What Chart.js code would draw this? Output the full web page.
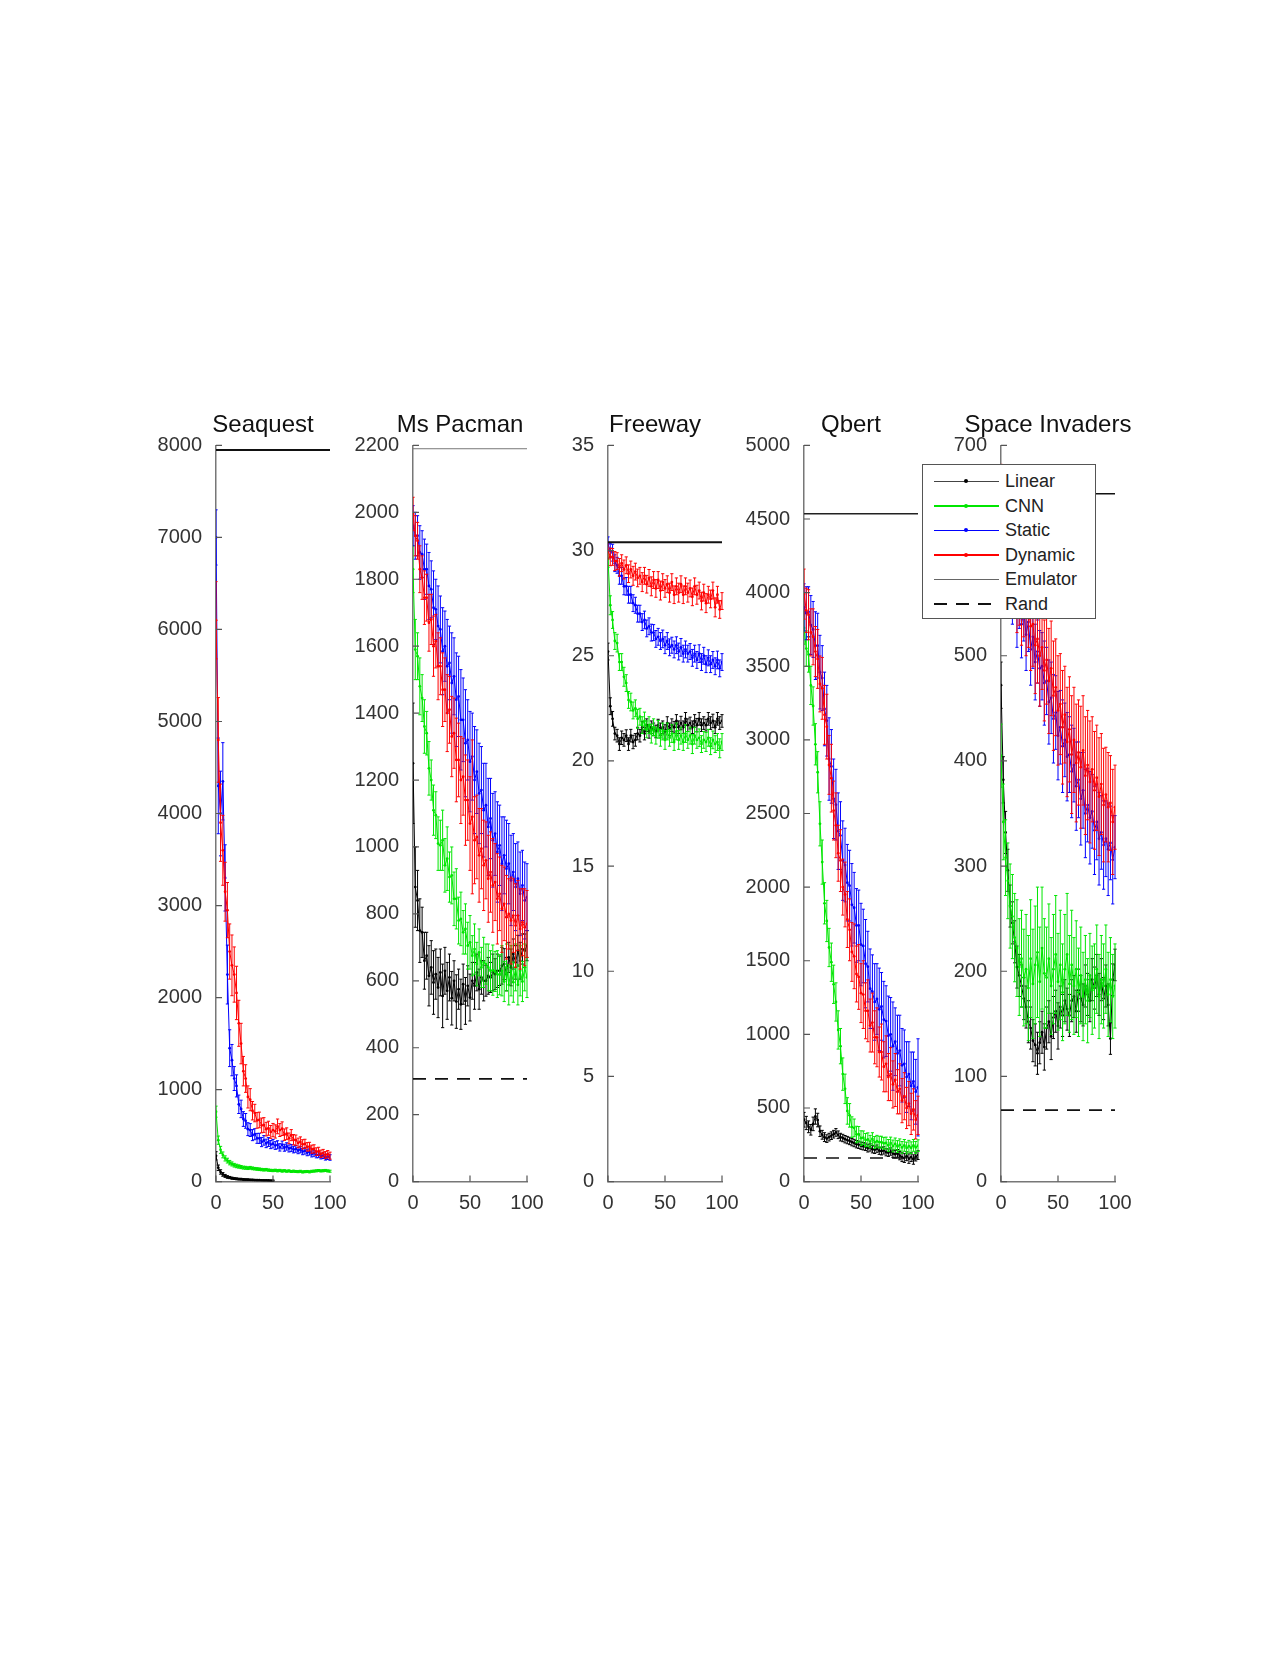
<!DOCTYPE html>
<html><head><meta charset="utf-8">
<script src="https://cdn.jsdelivr.net/npm/chart.js@4.4.1/dist/chart.umd.min.js"></script>
<style>
html,body{margin:0;padding:0;background:#fff;}
body{width:1280px;height:1659px;position:relative;overflow:hidden;font-family:'Liberation Sans',Arial,sans-serif;}
canvas{position:absolute;}
#legend{position:absolute;left:922px;top:464px;width:172px;height:153px;border:1.5px solid #555;background:#fff;z-index:10;}
.row{position:absolute;left:0;width:100%;height:0;}
.smp{position:absolute;left:11px;width:65px;}
.dot{position:absolute;width:4px;height:4px;border-radius:50%;}
.lbl{position:absolute;left:82px;top:-11px;font-size:18px;line-height:22px;color:#222;white-space:nowrap;}
</style></head>
<body>
<canvas id="c0" width="254" height="832"></canvas>
<canvas id="c1" width="254" height="832"></canvas>
<canvas id="c2" width="254" height="832"></canvas>
<canvas id="c3" width="254" height="832"></canvas>
<canvas id="c4" width="254" height="832"></canvas>
<div id="legend"></div>
<script>
// ---------------- DATA ----------------
const xSteps = [0,2,4,6,8,10,12,14,16,18,20,22,24,26,28,30,32,34,36,38,40,42,44,46,48,50,52,54,56,58,60,62,64,66,68,70,72,74,76,78,80,82,84,86,88,90,92,94,96,98,100];
const panelNames = ['Seaquest','Ms Pacman','Freeway','Qbert','Space Invaders'];
const yMaxes = [8000,2200,35,5000,700];
const yStepSizes = [1000,200,5,500,100];
const xTickStep = 50;
const emulatorScores = [7950,2190,30.4,4535,654];
const randScores = [null,307,null,160,68];
const seriesNames = ['Linear','CNN','Static','Dynamic'];

// Seaquest
const sqLinear = [280,150,105,78,62,50,44,37,33,30,27,26,23,22,21,19,18,17,16,15,14,13,13,12,11,10];
const sqLinearErr = [45,30,24,20,16,14,12,11,10,10,9,9,8,8,8,7,7,7,7,6,6,6,6,6,6,6];
const sqCnn = [760,450,345,290,252,228,206,192,178,170,164,158,152,150,146,150,144,140,137,134,131,128,130,125,122,120,123,118,121,115,118,113,116,110,113,110,108,112,105,108,110,106,112,114,117,120,116,118,121,116,113];
const sqCnnErr = [60,45,38,32,28,26,24,22,20,19,18,17,16,16,15,15,15,14,14,14,13,13,13,12,12,12,12,12,12,12,11,11,11,11,11,11,11,11,11,11,11,11,11,11,11,11,11,11,11,11,11];
const sqStatic = [7000,4300,4000,4350,3300,2250,1450,1320,1120,1040,840,790,680,660,570,560,505,515,470,470,430,448,415,430,402,412,392,400,372,398,368,382,360,366,348,356,338,348,326,334,314,322,300,308,290,292,276,282,264,270,262];
const sqStaticErr = [300,520,460,420,360,320,200,170,130,120,100,95,80,80,70,70,60,60,54,55,50,52,46,48,44,46,42,44,40,42,38,40,38,38,36,37,35,36,34,35,33,34,32,33,32,32,30,31,30,30,30];
const sqDynamic = [6100,4800,3900,3600,3150,2950,2500,2350,2250,2050,1720,1500,1200,1120,920,890,770,745,665,670,610,615,570,580,540,560,545,600,560,575,510,520,470,505,455,450,420,432,405,410,378,380,352,355,325,330,302,310,288,298,282];
const sqDynamicErr = [420,460,420,380,320,300,300,330,300,290,250,220,160,150,120,120,100,95,85,85,80,80,74,76,70,72,72,80,70,74,62,64,58,60,56,56,52,54,50,50,46,47,44,45,42,43,40,40,38,39,38];

// Ms Pacman
const mpLinear = [1250,880,840,750,745,660,675,615,640,595,620,580,625,555,630,570,610,548,600,538,575,530,590,540,585,550,600,585,625,575,610,600,600,615,610,625,620,630,630,645,650,620,670,640,680,655,690,660,695,690,705];
const mpLinearErr = [180,120,90,95,75,85,70,90,80,95,75,90,70,95,70,85,70,80,60,80,60,75,60,70,60,70,55,70,55,60,50,60,46,55,45,55,46,50,44,55,46,50,45,55,45,50,46,55,45,50,45];
const mpCnn = [1830,1590,1570,1480,1445,1360,1340,1235,1200,1110,1095,1010,1005,1020,945,965,910,915,845,845,780,785,745,755,705,715,675,695,650,685,640,655,650,640,630,632,628,620,618,630,598,640,588,630,596,640,588,630,598,640,610];
const mpCnnErr = [70,90,70,85,70,80,65,80,60,75,70,80,75,90,80,95,75,85,80,90,70,80,65,75,70,80,60,75,65,70,60,75,60,70,60,75,60,70,60,75,60,70,60,75,60,70,60,75,60,70,60];
const mpStatic = [1960,1930,1930,1880,1875,1830,1830,1780,1770,1715,1710,1660,1650,1585,1600,1540,1550,1490,1510,1440,1450,1380,1380,1310,1320,1255,1270,1200,1225,1160,1170,1110,1125,1060,1085,1020,1040,985,1005,950,975,935,950,900,925,880,905,860,885,840,850];
const mpStaticErr = [60,70,60,80,70,90,75,100,85,110,90,120,100,130,105,140,110,150,115,140,120,150,125,160,120,150,130,160,125,150,130,140,125,145,120,140,125,150,120,140,115,145,120,135,115,130,110,125,105,115,100];
const mpDynamic = [1995,1930,1915,1830,1805,1745,1745,1670,1680,1600,1615,1540,1540,1470,1470,1400,1410,1330,1340,1260,1260,1200,1210,1140,1140,1070,1090,1020,1030,975,995,945,960,905,925,885,895,845,860,815,830,790,800,780,795,765,795,755,775,760,770];
const mpDynamicErr = [50,60,55,70,65,80,70,85,75,90,80,100,85,110,95,115,100,120,105,125,110,130,115,135,120,140,230,130,125,140,120,135,115,130,120,140,115,135,110,130,110,125,105,130,110,125,105,120,100,115,100];

// Freeway
const fwLinear = [25.2,22.6,22.0,21.3,21.2,20.8,21.1,21.0,21.2,20.8,21.2,20.9,21.0,21.3,21.2,21.6,21.3,21.7,21.4,21.6,21.5,21.4,21.7,21.5,21.6,21.4,21.8,21.5,21.7,21.6,21.9,21.6,21.8,21.6,22.0,21.7,21.8,21.6,21.9,21.7,22.0,21.7,21.8,21.7,22.0,21.8,21.9,21.6,22.0,21.8,21.9];
const fwLinearErr = [0.4,0.4,0.35,0.3,0.3,0.3,0.32,0.3,0.28,0.3,0.3,0.32,0.3,0.3,0.3,0.28,0.3,0.3,0.32,0.3,0.3,0.3,0.28,0.3,0.3,0.32,0.3,0.3,0.3,0.28,0.3,0.3,0.32,0.3,0.3,0.3,0.28,0.3,0.3,0.32,0.3,0.3,0.3,0.28,0.3,0.3,0.32,0.3,0.3,0.3,0.3];
const fwCnn = [29.6,27.4,26.7,25.7,25.6,24.7,24.7,24.0,23.7,22.9,22.8,22.4,22.5,22.0,22.1,21.7,21.9,21.5,21.7,21.3,21.6,21.2,21.5,21.1,21.4,21.0,21.4,21.1,21.3,20.9,21.4,21.0,21.2,20.9,21.3,21.0,21.2,20.8,21.2,21.0,21.1,20.8,21.0,20.9,21.1,20.7,21.0,20.8,20.9,20.6,20.9];
const fwCnnErr = [0.4,0.45,0.4,0.4,0.42,0.4,0.4,0.45,0.4,0.4,0.42,0.4,0.4,0.45,0.4,0.4,0.42,0.4,0.4,0.45,0.4,0.4,0.42,0.4,0.4,0.45,0.4,0.4,0.42,0.4,0.4,0.45,0.4,0.4,0.42,0.4,0.4,0.45,0.4,0.4,0.42,0.4,0.4,0.45,0.4,0.4,0.42,0.4,0.4,0.45,0.4];
const fwStatic = [30.3,30.0,29.9,29.4,29.3,28.8,28.8,28.3,28.3,27.9,27.9,27.5,27.4,27.0,27.0,26.6,26.7,26.3,26.4,26.1,26.1,25.8,25.9,25.7,25.8,25.5,25.7,25.4,25.5,25.3,25.5,25.2,25.4,25.1,25.3,25.1,25.2,24.9,25.1,24.8,25.1,24.7,25.0,24.6,24.9,24.6,24.8,24.5,24.8,24.4,24.7];
const fwStaticErr = [0.35,0.35,0.4,0.4,0.38,0.4,0.4,0.4,0.42,0.4,0.4,0.4,0.38,0.4,0.4,0.4,0.42,0.4,0.4,0.4,0.38,0.4,0.4,0.4,0.42,0.4,0.4,0.4,0.38,0.4,0.4,0.4,0.42,0.4,0.4,0.4,0.38,0.4,0.4,0.4,0.42,0.4,0.4,0.4,0.38,0.4,0.4,0.4,0.42,0.4,0.4];
const fwDynamic = [30.0,29.7,29.7,29.5,29.5,29.2,29.4,29.1,29.3,28.9,29.1,28.8,29.0,28.7,28.8,28.5,28.8,28.4,28.7,28.3,28.6,28.2,28.6,28.1,28.5,28.2,28.4,28.0,28.5,27.9,28.3,28.0,28.4,27.9,28.3,28.0,28.2,27.8,28.3,27.9,28.1,27.6,28.0,27.5,27.9,27.7,28.1,27.3,27.9,27.2,27.6];
const fwDynamicErr = [0.4,0.42,0.4,0.45,0.4,0.42,0.4,0.45,0.4,0.42,0.4,0.45,0.4,0.42,0.4,0.45,0.4,0.42,0.4,0.45,0.4,0.42,0.4,0.45,0.4,0.42,0.4,0.45,0.4,0.42,0.4,0.45,0.4,0.42,0.4,0.45,0.4,0.42,0.4,0.45,0.4,0.42,0.4,0.45,0.4,0.42,0.4,0.45,0.4,0.42,0.4];

// Qbert
const qbLinear = [420,398,372,352,392,442,418,342,318,302,292,302,312,322,334,318,302,296,288,282,276,268,262,254,250,244,240,236,226,232,220,216,224,210,206,212,200,196,204,190,186,192,176,166,160,172,156,166,150,170,180];
const qbLinearErr = [50,45,40,36,46,52,46,36,30,30,26,26,26,26,26,26,26,25,25,25,25,25,25,25,25,25,25,25,25,25,25,25,25,25,25,25,25,25,25,25,25,26,28,30,30,30,32,30,32,30,30];
const qbCnn = [3760,3620,3580,3370,3230,2970,2780,2430,2170,1890,1770,1590,1490,1340,1220,1030,920,730,630,480,450,370,365,320,322,295,298,282,286,272,290,266,274,268,268,260,262,246,262,242,256,238,250,232,246,228,240,230,246,232,244];
const qbCnnErr = [110,120,120,130,130,140,140,150,150,140,140,130,130,130,130,130,120,110,100,90,80,70,60,56,52,50,46,45,45,42,42,40,40,40,40,40,40,40,40,40,40,40,40,40,40,40,40,40,40,40,40];
const qbStatic = [3900,3860,3870,3780,3750,3640,3640,3460,3420,3210,3130,2870,2820,2600,2560,2380,2350,2180,2150,2030,2010,1880,1860,1740,1740,1610,1600,1480,1460,1310,1290,1220,1240,1170,1190,1100,1090,990,1000,920,950,870,890,790,800,710,730,650,680,610,640];
const qbStaticErr = [160,180,170,200,190,230,220,250,220,250,240,280,250,270,240,260,230,270,250,260,240,280,240,250,240,280,250,300,240,270,250,260,240,280,230,260,240,270,250,300,230,260,240,250,230,240,220,230,200,220,330];
const qbDynamic = [3990,3880,3850,3730,3700,3600,3550,3380,3350,3170,3090,2830,2740,2520,2420,2230,2180,2000,1950,1780,1710,1560,1530,1410,1390,1280,1270,1160,1160,1060,1080,980,980,880,880,780,800,710,730,660,690,610,630,550,580,500,530,460,490,420,450];
const qbDynamicErr = [170,150,170,160,190,170,200,190,210,200,220,200,230,200,220,190,210,190,220,190,210,200,220,190,220,200,230,190,210,180,200,180,200,170,190,170,190,160,180,160,180,150,170,150,160,140,150,140,140,130,130];

// Space Invaders
const siLinear = [472,382,332,296,262,246,228,204,196,186,174,166,152,146,134,130,122,132,142,128,146,152,138,156,162,148,166,158,172,164,158,172,176,162,182,174,168,186,178,172,192,184,196,178,192,174,186,168,136,192,206];
const siLinearErr = [22,22,20,20,20,20,20,20,20,20,20,20,20,20,20,20,20,20,20,22,20,20,22,20,20,22,20,20,20,20,20,20,20,20,20,22,20,20,20,20,20,20,20,20,20,20,20,20,15,15,15];
const siCnn = [405,342,308,286,262,252,232,222,204,212,194,202,184,212,188,206,218,190,222,198,194,212,186,202,216,190,206,180,202,216,188,206,186,202,180,196,176,192,172,196,182,186,202,176,192,186,202,178,192,176,186];
const siCnnErr = [30,36,36,36,40,40,42,46,46,46,46,52,50,56,52,56,62,52,58,52,48,52,46,52,56,46,52,46,52,58,46,52,46,46,42,46,42,42,40,40,42,40,42,40,42,40,42,40,40,40,40];
const siStatic = [642,620,618,590,588,560,568,540,552,530,542,520,532,506,518,494,504,488,490,474,476,456,460,440,446,424,432,414,420,404,406,390,396,376,382,364,372,350,358,346,352,334,342,326,332,320,326,316,322,306,318];
const siStaticErr = [25,28,25,30,25,30,26,32,26,32,28,34,28,34,30,36,30,36,32,40,32,40,34,42,35,42,35,44,35,42,36,44,35,42,36,44,36,42,35,44,35,42,36,44,35,42,36,44,35,42,30];
const siDynamic = [652,630,624,600,600,580,580,560,564,550,554,540,544,528,530,510,516,500,508,486,496,476,488,462,470,448,454,432,444,418,430,406,420,398,408,394,410,386,396,380,392,372,384,366,378,358,368,356,360,342,356];
const siDynamicErr = [30,32,30,34,30,36,32,38,35,40,36,40,36,42,40,46,42,48,40,48,42,50,45,52,46,52,48,54,46,52,50,56,50,56,50,58,52,56,52,58,50,56,50,56,48,54,45,52,45,50,40];

const panelSeries = [
  [[sqLinear,sqLinearErr],[sqCnn,sqCnnErr],[sqStatic,sqStaticErr],[sqDynamic,sqDynamicErr]],
  [[mpLinear,mpLinearErr],[mpCnn,mpCnnErr],[mpStatic,mpStaticErr],[mpDynamic,mpDynamicErr]],
  [[fwLinear,fwLinearErr],[fwCnn,fwCnnErr],[fwStatic,fwStaticErr],[fwDynamic,fwDynamicErr]],
  [[qbLinear,qbLinearErr],[qbCnn,qbCnnErr],[qbStatic,qbStaticErr],[qbDynamic,qbDynamicErr]],
  [[siLinear,siLinearErr],[siCnn,siCnnErr],[siStatic,siStaticErr],[siDynamic,siDynamicErr]]
];

// ---------------- STYLE / LAYOUT ----------------
const seriesColors = ['#000000','#00e600','#0000ff','#ff0000'];
const axisLefts = [216,413,608,804,1001];
const emuWidths = [2,1,2,1.5,1.5];
const emuColors = ['#111','#777','#111','#222','#111'];
const FONT = "'Liberation Sans', Arial, Helvetica, sans-serif";

const errorBars = {
  id:'errorBars',
  afterDatasetDraw(chart, args){
    const ds = chart.data.datasets[args.index];
    if(!ds.errors) return;
    const ctx = chart.ctx, a = chart.chartArea, xs = chart.scales.x, ys = chart.scales.y;
    ctx.save();
    ctx.beginPath(); ctx.rect(a.left, a.top-1, a.right-a.left+3, a.bottom-a.top+1); ctx.clip();
    ctx.strokeStyle = ds.borderColor; ctx.lineWidth = 1;
    ctx.beginPath();
    ds.data.forEach((p,i)=>{
      const e = ds.errors[i];
      const px = xs.getPixelForValue(p.x);
      const y1 = ys.getPixelForValue(p.y+e), y2 = ys.getPixelForValue(p.y-e);
      ctx.moveTo(px,y1); ctx.lineTo(px,y2);
      ctx.moveTo(px-1.6,y1); ctx.lineTo(px+1.6,y1);
      ctx.moveTo(px-1.6,y2); ctx.lineTo(px+1.6,y2);
    });
    ctx.stroke();
    ctx.restore();
  }
};
const inwardTicks = {
  id:'inwardTicks',
  afterDraw(chart){
    const ctx = chart.ctx, a = chart.chartArea, xs = chart.scales.x, ys = chart.scales.y;
    ctx.save(); ctx.strokeStyle = '#555'; ctx.lineWidth = 1.2;
    ctx.beginPath();
    ys.ticks.forEach(t=>{ const py = ys.getPixelForValue(t.value); ctx.moveTo(a.left, py); ctx.lineTo(a.left+6, py); });
    xs.ticks.forEach(t=>{ const px = xs.getPixelForValue(t.value); ctx.moveTo(px, a.bottom); ctx.lineTo(px, a.bottom-6); });
    ctx.stroke(); ctx.restore();
  }
};

panelNames.forEach((name, p)=>{
  const cv = document.getElementById('c'+p);
  cv.style.left = (axisLefts[p]-80)+'px';
  cv.style.top = '395px';
  const datasets = [];
  panelSeries[p].forEach((s, k)=>{
    const vals = s[0], errs = s[1];
    datasets.push({
      label: seriesNames[k],
      data: vals.map((v,i)=>({x:xSteps[i], y:v})),
      errors: errs,
      borderColor: seriesColors[k], backgroundColor: seriesColors[k],
      pointBackgroundColor: seriesColors[k], pointBorderWidth: 0, pointRadius: 1.4,
      borderWidth: 1, order: 4-k
    });
  });
  datasets.push({label:'Emulator', data:[{x:0,y:emulatorScores[p]},{x:100,y:emulatorScores[p]}],
    borderColor: emuColors[p], borderWidth: emuWidths[p], pointRadius:0, order:0});
  if(randScores[p] !== null){
    datasets.push({label:'Rand', data:[{x:0,y:randScores[p]},{x:100,y:randScores[p]}],
      borderColor:'#111', borderWidth:1.6, borderDash:[13,9], pointRadius:0, order:0});
  }
  new Chart(cv, {
    type:'line',
    data:{datasets},
    plugins:[errorBars, inwardTicks],
    options:{
      responsive:false, animation:false, devicePixelRatio:1,
      layout:{padding:0},
      plugins:{
        legend:{display:false}, tooltip:{enabled:false},
        title:{display:true, text:name, color:'#111', font:{family:FONT, size:24, weight:'normal', lineHeight:1.2}, padding:{top:15.9, bottom:5.7}}
      },
      scales:{
        x:{type:'linear', min:0, max:100,
           ticks:{stepSize:xTickStep, color:'#333', padding:10, font:{family:FONT, size:20}, maxRotation:0},
           grid:{display:false, drawTicks:false}, border:{display:true, color:'#777', width:1.5},
           afterFit:s=>{ s.height = 45.4; }},
        y:{type:'linear', min:0, max:yMaxes[p], position:'left',
           ticks:{stepSize:yStepSizes[p], color:'#333', padding:14, font:{family:FONT, size:20}, callback:v=>String(v)},
           grid:{display:false, drawTicks:false}, border:{display:true, color:'#777', width:1.5},
           afterFit:s=>{ s.width = 80; }},
        yr:{type:'linear', position:'right', min:0, max:1, display:true,
           ticks:{display:false}, grid:{display:false, drawTicks:false}, border:{display:false},
           afterFit:s=>{ s.width = 60; }}
      }
    }
  });
});

// ---------------- LEGEND (HTML) ----------------
const legendStyles = [
  {c:'#444', h:1, dot:'#000'},
  {c:'#00e600', h:2, dot:'#00e600'},
  {c:'#0000ff', h:1, dot:'#0000ff'},
  {c:'#ff0000', h:2, dot:'#ff0000'},
  {c:'#666', h:1, dot:null},
  {c:null, h:2, dot:null, dash:true}
];
const legendLabels = ['Linear','CNN','Static','Dynamic','Emulator','Rand'];
const lg = document.getElementById('legend');
legendLabels.forEach((t,i)=>{
  const st = legendStyles[i];
  const row = document.createElement('div'); row.className='row'; row.style.top = (16+24.6*i)+'px';
  const smp = document.createElement('div'); smp.className='smp';
  smp.style.height = st.h+'px'; smp.style.top = (-st.h/2)+'px';
  smp.style.background = st.dash ? 'repeating-linear-gradient(to right,#111 0 13px,transparent 13px 22px)' : st.c;
  row.appendChild(smp);
  if(st.dot){ const d=document.createElement('div'); d.className='dot'; d.style.background=st.dot; d.style.top='-2px'; d.style.left='41px'; row.appendChild(d); }
  const lb = document.createElement('div'); lb.className='lbl'; lb.textContent = t; row.appendChild(lb);
  lg.appendChild(row);
});
</script>
</body></html>
